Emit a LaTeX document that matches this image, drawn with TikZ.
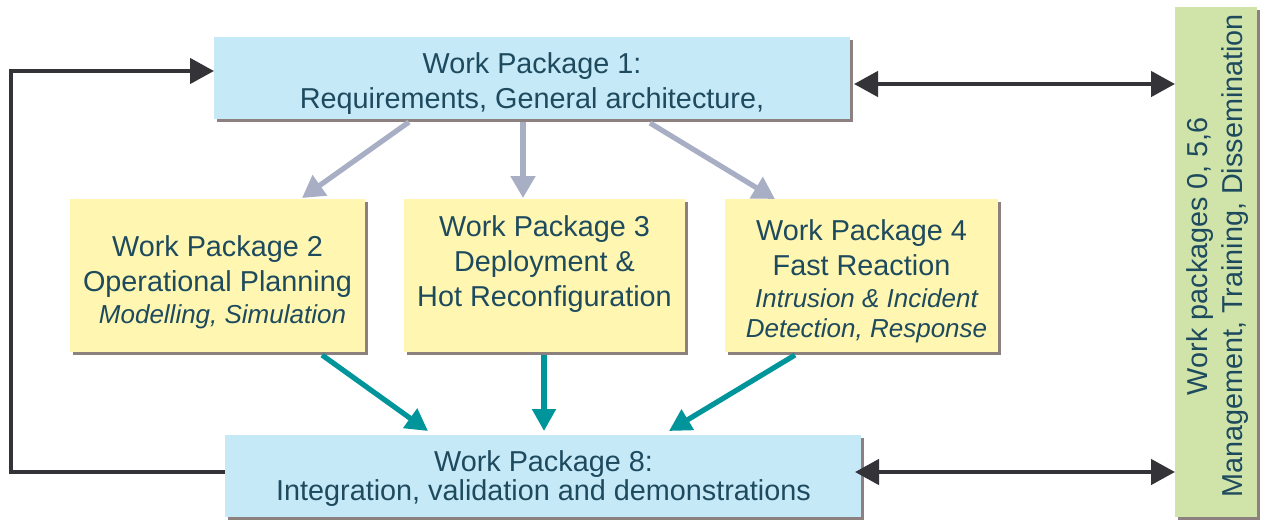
\documentclass[tikz,border=0pt]{standalone}
\usepackage{fontspec}
\setmainfont{Liberation Sans}
\usetikzlibrary{calc,arrows.meta}

\definecolor{wpblue}{HTML}{C6E9F8}
\definecolor{wpyellow}{HTML}{FFF6B1}
\definecolor{wpgreen}{HTML}{D0E4AA}
\definecolor{wpshade}{HTML}{8C817E}
\definecolor{wptext}{HTML}{1E4A5E}
\definecolor{arrgray}{HTML}{A8AFC4}
\definecolor{arrteal}{HTML}{00959B}
\definecolor{arrdark}{HTML}{333338}

\newcommand{\itline}{\fontsize{13}{15}\selectfont\itshape}

\begin{document}
\begin{tikzpicture}[
  x=0.5pt, y=-0.5pt,
  panel/.style={rectangle, draw=none, inner sep=0pt, outer sep=0pt,
    preaction={fill=wpshade, transform canvas={shift={(1.5pt,-1.5pt)}}}},
  bluebox/.style={panel, fill=wpblue},
  yellowbox/.style={panel, fill=wpyellow},
  greenbox/.style={panel, fill=wpgreen},
  label/.style={inner sep=0pt, outer sep=0pt, align=center, text=wptext,
    font=\fontsize{14.4}{17.5}\selectfont},
  loopline/.style={draw=arrdark, line width=2.3pt,
    -{Triangle[length=12pt,width=12.5pt]}},
  linkline/.style={draw=arrdark, line width=2.3pt,
    {Triangle[length=12pt,width=12.5pt]}-{Triangle[length=12pt,width=12.5pt]}},
  flowdown/.style={draw=arrgray, line width=2.6pt,
    -{Triangle[length=11pt,width=12pt]}},
  flowin/.style={draw=arrteal, line width=2.6pt,
    -{Triangle[length=11pt,width=11.5pt]}}
]
\useasboundingbox (0,0) rectangle (1265,520);
\fill[white] (0,0) rectangle (1265,520);

% work package boxes
\node[bluebox, minimum width=318pt, minimum height=41pt] (wp1) at (532,78) {};
\node[yellowbox, minimum width=147.5pt, minimum height=76.5pt] (wp2) at (217.5,275.5) {};
\node[yellowbox, minimum width=140.5pt, minimum height=76.5pt] (wp3) at (544.5,275.5) {};
\node[yellowbox, minimum width=136.5pt, minimum height=76.5pt] (wp4) at (861.5,275.5) {};
\node[bluebox, minimum width=318pt, minimum height=41pt] (wp8) at (543,476) {};
\node[greenbox, minimum width=41pt, minimum height=255pt] (green) at (1216,262) {};

% box texts
\node[label, anchor=north] (t1) at (532,53)
  {Work Package 1:\\Requirements, General architecture,};
\node[label, anchor=north] (t2) at (217.5,236)
  {Work Package 2\\Operational Planning\\[-1.5pt]{\itline\hspace*{5pt}Modelling, Simulation}};
\node[label, anchor=north] (t3) at (544.5,216)
  {Work Package 3\\Deployment \&\\Hot Reconfiguration};
\node[label, anchor=north] (t4) at (861.5,220)
  {Work Package 4\\Fast Reaction\\[-1.5pt]{\itline\hspace*{5pt}Intrusion \& Incident}\\[-2.5pt]{\itline\hspace*{5pt}Detection, Response}};
\node[label, anchor=north] (t8) at (543.5,451)
  {Work Package 8:\\[-3pt]Integration, validation and demonstrations};
\node[label, rotate=90] (tg) at ($(green.center)+(2,-6)$)
  {Work packages 0, 5,6\\Management, Training, Dissemination};

% refinement of the requirements
\draw[flowdown] ($(wp1.south)+(-123,3)$) -- ($(wp2.north)+(84.5,-1)$);
\draw[flowdown] ($(wp1.south)+(-9,3)$) -- ($(wp3.north)+(-21.5,-1)$);
\draw[flowdown] ($(wp1.south)+(118,4)$) -- ($(wp4.north)+(-86.5,0)$);

% results flowing into integration
\draw[flowin] ($(wp2.south)+(104.5,3)$) -- ($(wp8.north)+(-115,-4)$);
\draw[flowin] ($(wp3.south)+(-0.5,3)$) -- ($(wp8.north)+(1,-4)$);
\draw[flowin] ($(wp4.south)+(-66.5,3)$) -- ($(wp8.north)+(126,-4)$);

% feedback loop from integration back to requirements
\draw[loopline] ($(wp8.west)+(0,-4)$) -- ++(-214,0) |- ($(wp1.west)+(0,-7)$);

% links to the management work packages
\coordinate (l1) at ($(wp1.east)+(4,6)$);
\coordinate (l8) at ($(wp8.east)+(-6,-4)$);
\draw[linkline] (l1) -- (l1 -| green.west);
\draw[linkline] (l8) -- (l8 -| green.west);
\end{tikzpicture}
\end{document}
